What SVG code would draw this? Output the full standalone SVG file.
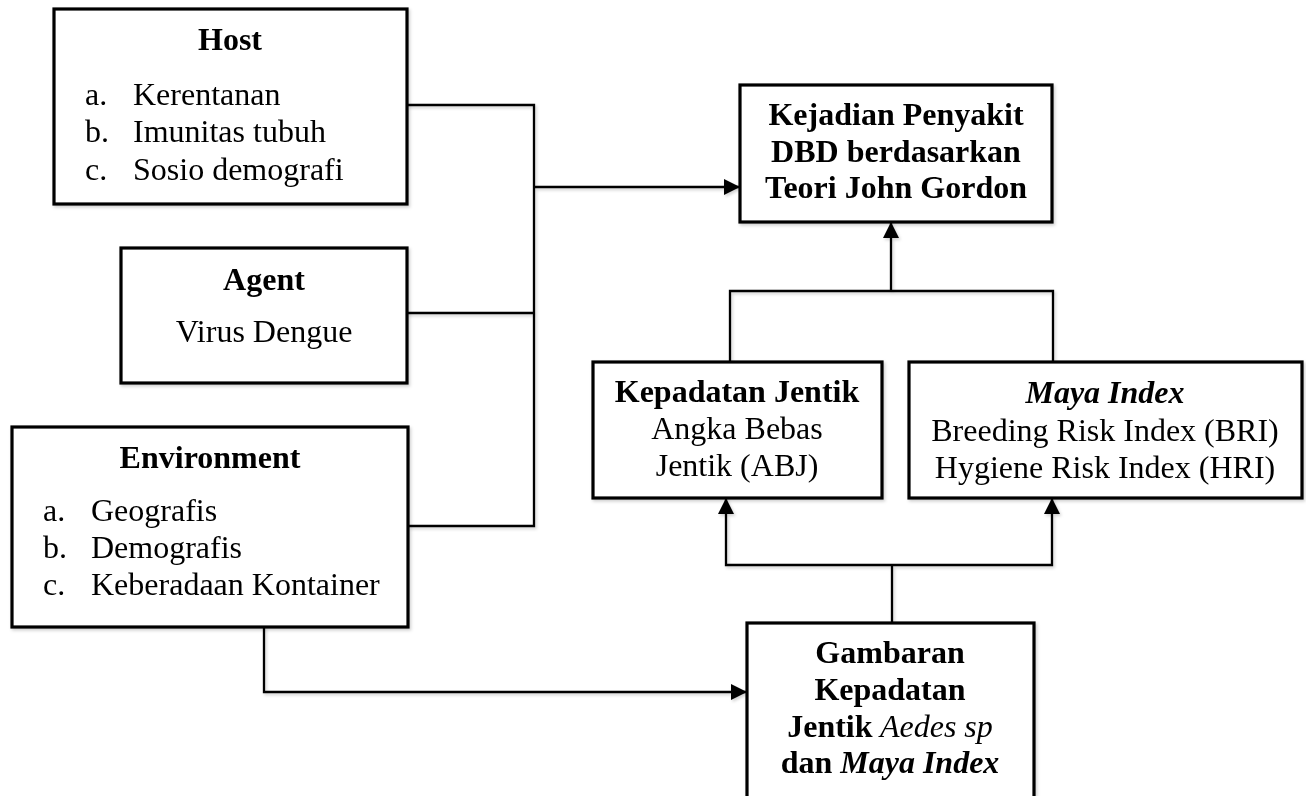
<svg xmlns="http://www.w3.org/2000/svg" width="1306" height="796" viewBox="0 0 1306 796">
<style>
  .box{fill:#fff;stroke:#000;stroke-width:3.2}
  .ln{fill:none;stroke:#000;stroke-width:2.3;stroke-linejoin:miter}
  text{font-family:"Liberation Serif","Times New Roman",serif;font-size:32px;fill:#000}
  .b{font-weight:bold}
  .i{font-style:italic}
  .c{text-anchor:middle}
</style>
<defs>
  <marker id="arr" markerUnits="userSpaceOnUse" markerWidth="17" markerHeight="16" refX="16" refY="8" orient="auto-start-reverse">
    <path d="M0,0 L16,8 L0,16 Z" fill="#000"/>
  </marker>
  <filter id="sh" x="-10%" y="-10%" width="130%" height="130%">
    <feDropShadow dx="1.5" dy="2" stdDeviation="1.5" flood-color="#000" flood-opacity="0.18"/>
  </filter>
</defs>
<rect width="1306" height="796" fill="#fff"/>
<g id="connectors" filter="url(#sh)">
  <path class="ln" d="M407,105 H534 V526 H408"/>
  <path class="ln" d="M407,313 H534"/>
  <path class="ln" d="M534,187 H740" marker-end="url(#arr)"/>
  <path class="ln" d="M730,362 V291 H1053 V362"/>
  <path class="ln" d="M891,291 V222" marker-end="url(#arr)"/>
  <path class="ln" d="M892,623 V565"/>
  <path class="ln" d="M726,498 V565 H1052 V498" marker-start="url(#arr)" marker-end="url(#arr)"/>
  <path class="ln" d="M264,627 V692 H747" marker-end="url(#arr)"/>
</g>
<g id="host" filter="url(#sh)">
  <rect class="box" x="54" y="9" width="353" height="195"/>
  <text class="b c" x="230" y="50">Host</text>
  <text x="85" y="105">a.</text><text x="133" y="105">Kerentanan</text>
  <text x="85" y="142">b.</text><text x="133" y="142">Imunitas tubuh</text>
  <text x="85" y="180">c.</text><text x="133" y="180">Sosio demografi</text>
</g>
<g id="agent" filter="url(#sh)">
  <rect class="box" x="121" y="248" width="286" height="135"/>
  <text class="b c" x="264" y="290">Agent</text>
  <text class="c" x="264" y="342">Virus Dengue</text>
</g>
<g id="environment" filter="url(#sh)">
  <rect class="box" x="12" y="427" width="396" height="200"/>
  <text class="b c" x="210" y="468">Environment</text>
  <text x="43" y="521">a.</text><text x="91" y="521">Geografis</text>
  <text x="43" y="558">b.</text><text x="91" y="558">Demografis</text>
  <text x="43" y="595">c.</text><text x="91" y="595">Keberadaan Kontainer</text>
</g>
<g id="kejadian" filter="url(#sh)">
  <rect class="box" x="740" y="85" width="312" height="137"/>
  <text class="b c" x="896" y="125">Kejadian Penyakit</text>
  <text class="b c" x="896" y="162">DBD berdasarkan</text>
  <text class="b c" x="896" y="198">Teori John Gordon</text>
</g>
<g id="kepadatan" filter="url(#sh)">
  <rect class="box" x="593" y="362" width="289" height="136"/>
  <text class="b c" x="737" y="402">Kepadatan Jentik</text>
  <text class="c" x="737" y="439">Angka Bebas</text>
  <text class="c" x="737" y="476">Jentik (ABJ)</text>
</g>
<g id="maya" filter="url(#sh)">
  <rect class="box" x="909" y="362" width="393" height="136"/>
  <text class="b i c" x="1105" y="403">Maya Index</text>
  <text class="c" x="1105" y="441">Breeding Risk Index (BRI)</text>
  <text class="c" x="1105" y="478">Hygiene Risk Index (HRI)</text>
</g>
<g id="gambaran" filter="url(#sh)">
  <rect class="box" x="747" y="623" width="287" height="190"/>
  <text class="b c" x="890" y="663">Gambaran</text>
  <text class="b c" x="890" y="700">Kepadatan</text>
  <text class="c" x="890" y="737"><tspan class="b">Jentik</tspan><tspan class="i"> Aedes sp</tspan></text>
  <text class="c" x="890" y="773"><tspan class="b">dan </tspan><tspan class="b i">Maya Index</tspan></text>
</g>
</svg>
